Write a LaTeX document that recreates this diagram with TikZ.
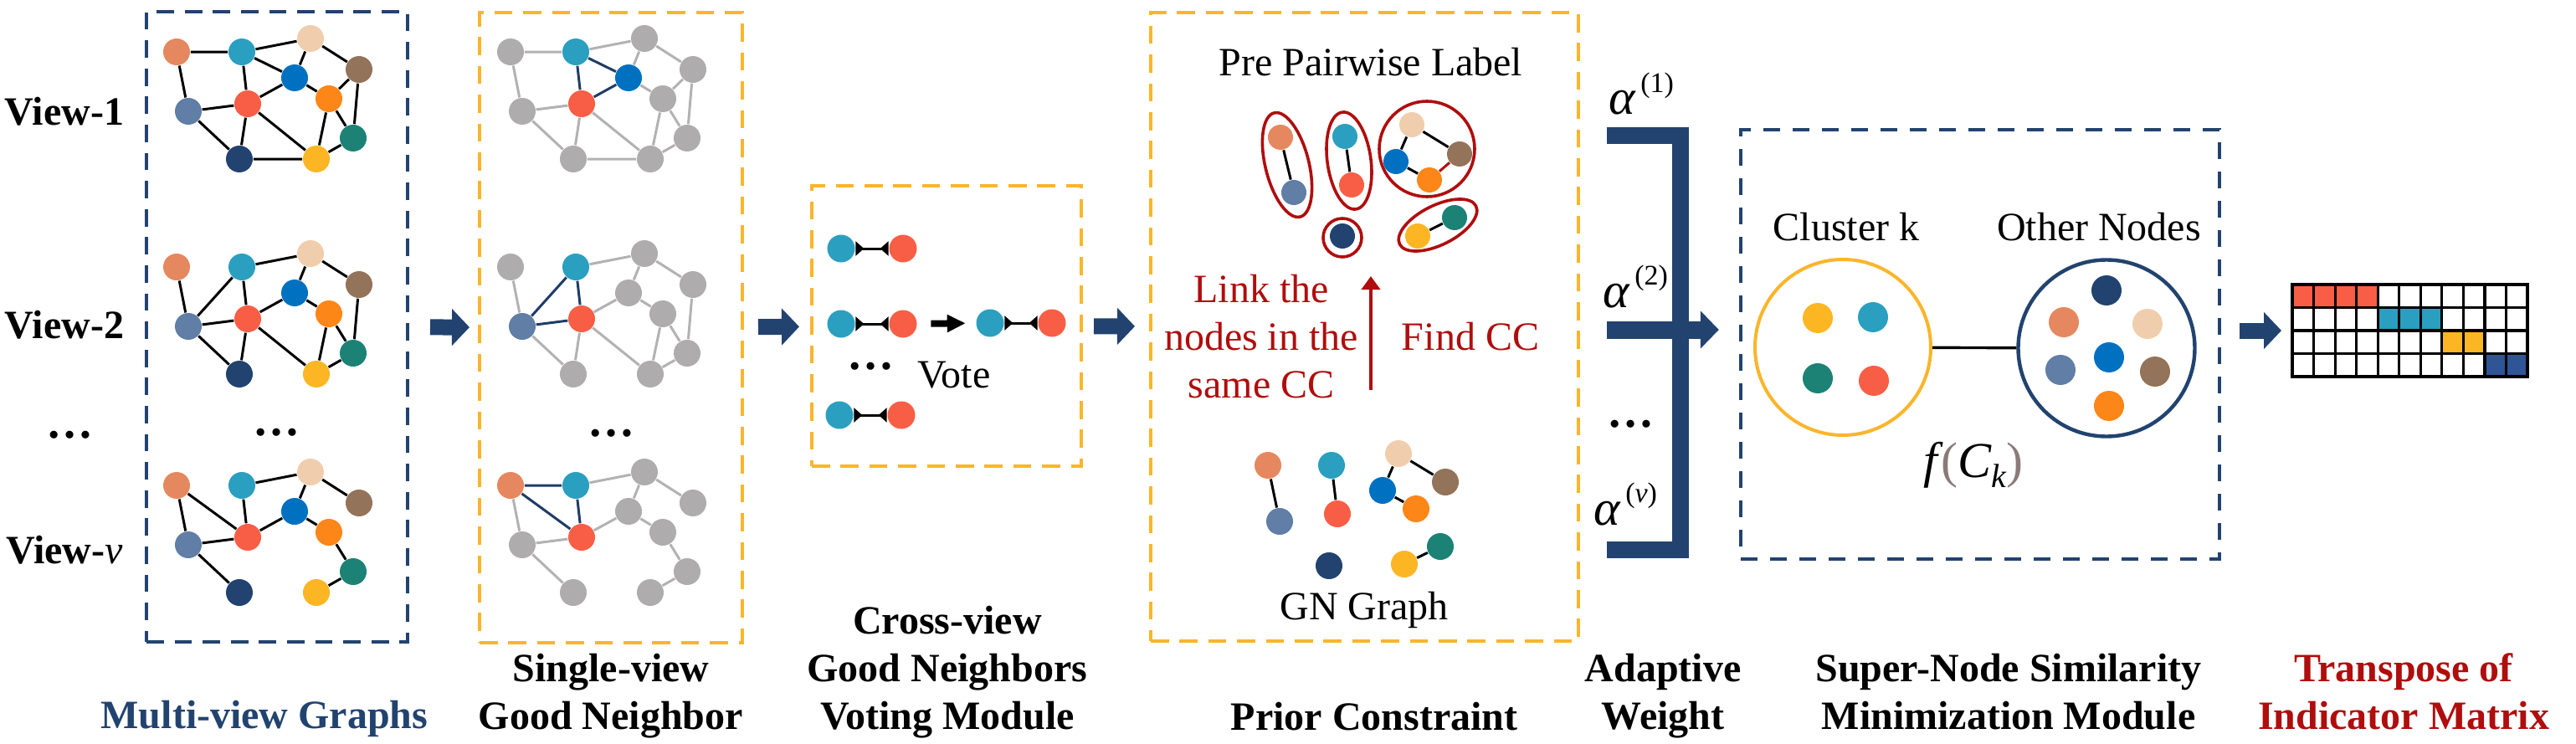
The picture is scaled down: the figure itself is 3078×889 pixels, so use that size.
\documentclass[tikz,border=0pt]{standalone}
\usepackage{fontspec}
\setmainfont{Liberation Serif}
\usetikzlibrary{positioning}
\usetikzlibrary{arrows.meta}
\usetikzlibrary{shapes.geometric}

\definecolor{csalmon}{HTML}{E6885F}
\definecolor{cteal}{HTML}{2B9FBF}
\definecolor{cbeige}{HTML}{F0CEAD}
\definecolor{cbrown}{HTML}{937359}
\definecolor{cblue}{HTML}{0071C1}
\definecolor{corange}{HTML}{FC8618}
\definecolor{cred}{HTML}{F85E46}
\definecolor{cslate}{HTML}{607EA6}
\definecolor{cgreen}{HTML}{1C8276}
\definecolor{cnavy}{HTML}{22436F}
\definecolor{cyellow}{HTML}{FDB623}
\definecolor{cgreynode}{HTML}{AEACAC}
\definecolor{cgreyline}{HTML}{B3B1B1}
\definecolor{cgood}{HTML}{1F3C68}
\definecolor{camber}{HTML}{FBB52B}
\definecolor{cdarkred}{HTML}{B00D0D}
\definecolor{cmatblue}{HTML}{2F5597}
\definecolor{cparen}{HTML}{8B7B78}

\begin{document}
\begin{tikzpicture}[x=0.25pt, y=-0.25pt,
gn/.style={circle, inner sep=0pt, minimum size=8pt, fill=#1},
pn/.style={circle, inner sep=0pt, minimum size=7.5pt, fill=#1},
vn/.style={circle, inner sep=0pt, minimum size=8.25pt, fill=#1},
dotnode/.style={circle, inner sep=0pt, minimum size=9pt, fill=#1},
links/.style={line width=0.75pt},
greylinks/.style={line width=0.75pt, cgreyline},
goodlinks/.style={line width=0.75pt, cgood},
pairlink/.style={line width=0.75pt, arrows={Triangle[reversed,length=2.5pt,width=4.25pt]-Triangle[reversed,length=2.5pt,width=4.25pt]}},
navybox/.style={draw=cnavy, line width=1pt, dash pattern=on 5.2pt off 3.2pt, inner sep=0pt},
snbox/.style={draw=cnavy, line width=1.1pt, dash pattern=on 5pt off 3.75pt, inner sep=0pt},
amberbox/.style={draw=camber, line width=1pt, dash pattern=on 5.4pt off 3.2pt, inner sep=0pt},
ccring/.style={draw=cdarkred, line width=0.9pt, inner sep=0pt},
blockarrow/.style={draw=cnavy, line width=4.75pt, -{Triangle[length=5.25pt, width=10.75pt]}},
votearrow/.style={line width=2pt, -{Triangle[length=5.5pt, width=5pt]}},
redarrow/.style={draw=cdarkred, line width=1pt, -{Triangle[length=4pt, width=5.5pt]}},
bracket/.style={draw=cnavy, line width=5pt},
boldlbl/.style={font=\bfseries\fontsize{12pt}{14.25pt}\selectfont, align=center, inner sep=0pt, anchor=base},
lbl/.style={font=\fontsize{12pt}{14.25pt}\selectfont, align=center, inner sep=0pt, anchor=base},
dots/.style={font=\bfseries\fontsize{14pt}{14pt}\selectfont, inner sep=0pt},
alpha/.style={font=\fontsize{15pt}{15pt}\selectfont\itshape, inner sep=0pt, anchor=base west}
]
\useasboundingbox (0,0) rectangle (3078,889);

%create boxes
\node[navybox, minimum width=78pt, minimum height=188.25pt] (mv) at (331,390.5) {};
\node[amberbox, minimum width=78.5pt, minimum height=188.25pt] (sv) at (730,391.5) {};
\node[amberbox, minimum width=80.5pt, minimum height=83.75pt] (cv) at (1131,389.5) {};
\node[amberbox, minimum width=127.75pt, minimum height=187.75pt] (pc) at (1630.5,390.5) {};
\node[snbox, minimum width=143pt, minimum height=128.25pt] (sn) at (2366,411.5) {};

%view labels
\node[boldlbl] (lv1) at (77,150) {View-1};
\node[boldlbl] (lv2) at (77,404) {View-2};
\node[dots] (lvd) at (83,520) {…};
\node[boldlbl] (lvv) at (77,673) {View-{\mdseries\itshape v}};

%multi-view graphs, view 1
\node[gn=csalmon] (v1a) at (211,62) {};
\node[gn=cteal] (v1b) at (289,62) {};
\node[gn=cbeige] (v1c) at (371,46) {};
\node[gn=cbrown] (v1d) at (429,83) {};
\node[gn=cblue] (v1e) at (352,93) {};
\node[gn=corange] (v1f) at (393,118) {};
\node[gn=cred] (v1g) at (296,124) {};
\node[gn=cslate] (v1h) at (225,133) {};
\node[gn=cgreen] (v1i) at (422,165) {};
\node[gn=cnavy] (v1j) at (286,190) {};
\node[gn=cyellow] (v1k) at (378,190) {};
\draw[links] (v1a) -- (v1b) (v1a) -- (v1h) (v1b) -- (v1c) (v1b) -- (v1e) (v1b) -- (v1g)
  (v1c) -- (v1e) (v1c) -- (v1d) (v1d) -- (v1f) (v1d) -- (v1i) (v1e) -- (v1g) (v1e) -- (v1f)
  (v1f) -- (v1k) (v1f) -- (v1i) (v1g) -- (v1h) (v1g) -- (v1j) (v1g) -- (v1k) (v1h) -- (v1j)
  (v1j) -- (v1k) (v1k) -- (v1i);

%view 2
\node[gn=csalmon] (v2a) at (211,319) {};
\node[gn=cteal] (v2b) at (289,319) {};
\node[gn=cbeige] (v2c) at (371,303) {};
\node[gn=cbrown] (v2d) at (429,340) {};
\node[gn=cblue] (v2e) at (352,350) {};
\node[gn=corange] (v2f) at (393,375) {};
\node[gn=cred] (v2g) at (296,381) {};
\node[gn=cslate] (v2h) at (225,390) {};
\node[gn=cgreen] (v2i) at (422,422) {};
\node[gn=cnavy] (v2j) at (286,447) {};
\node[gn=cyellow] (v2k) at (378,447) {};
\draw[links] (v2a) -- (v2h) (v2b) -- (v2h) (v2b) -- (v2c) (v2b) -- (v2g) (v2c) -- (v2e)
  (v2c) -- (v2d) (v2d) -- (v2i) (v2e) -- (v2g) (v2e) -- (v2f) (v2f) -- (v2k) (v2f) -- (v2i)
  (v2g) -- (v2h) (v2g) -- (v2j) (v2g) -- (v2k) (v2h) -- (v2j) (v2k) -- (v2i);

\node[dots] (mvd) at (330,517) {…};

%view v
\node[gn=csalmon] (vva) at (211,580) {};
\node[gn=cteal] (vvb) at (289,580) {};
\node[gn=cbeige] (vvc) at (371,564) {};
\node[gn=cbrown] (vvd) at (429,601) {};
\node[gn=cblue] (vve) at (352,611) {};
\node[gn=corange] (vvf) at (393,636) {};
\node[gn=cred] (vvg) at (296,642) {};
\node[gn=cslate] (vvh) at (225,651) {};
\node[gn=cgreen] (vvi) at (422,683) {};
\node[gn=cnavy] (vvj) at (286,708) {};
\node[gn=cyellow] (vvk) at (378,708) {};
\draw[links] (vva) -- (vvh) (vva) -- (vvg) (vvb) -- (vvc) (vvb) -- (vvg) (vvc) -- (vve)
  (vvc) -- (vvd) (vve) -- (vvg) (vve) -- (vvf) (vvf) -- (vvi) (vvg) -- (vvh) (vvh) -- (vvj)
  (vvk) -- (vvi);

%single-view good neighbor, view 1
\node[gn=cgreynode] (s1a) at (610,62) {};
\node[gn=cteal] (s1b) at (688,62) {};
\node[gn=cgreynode] (s1c) at (770,46) {};
\node[gn=cgreynode] (s1d) at (828,83) {};
\node[gn=cblue] (s1e) at (751,93) {};
\node[gn=cgreynode] (s1f) at (792,118) {};
\node[gn=cred] (s1g) at (695,124) {};
\node[gn=cgreynode] (s1h) at (624,133) {};
\node[gn=cgreynode] (s1i) at (821,165) {};
\node[gn=cgreynode] (s1j) at (685,190) {};
\node[gn=cgreynode] (s1k) at (777,190) {};
\draw[greylinks] (s1a) -- (s1b) (s1a) -- (s1h) (s1b) -- (s1c) (s1c) -- (s1e) (s1c) -- (s1d)
  (s1d) -- (s1f) (s1d) -- (s1i) (s1e) -- (s1f) (s1f) -- (s1k) (s1f) -- (s1i) (s1g) -- (s1h)
  (s1g) -- (s1j) (s1g) -- (s1k) (s1h) -- (s1j) (s1j) -- (s1k) (s1k) -- (s1i);
\draw[goodlinks] (s1b) -- (s1e) (s1b) -- (s1g) (s1e) -- (s1g);

%view 2
\node[gn=cgreynode] (s2a) at (610,319) {};
\node[gn=cteal] (s2b) at (688,319) {};
\node[gn=cgreynode] (s2c) at (770,303) {};
\node[gn=cgreynode] (s2d) at (828,340) {};
\node[gn=cgreynode] (s2e) at (751,350) {};
\node[gn=cgreynode] (s2f) at (792,375) {};
\node[gn=cred] (s2g) at (695,381) {};
\node[gn=cslate] (s2h) at (624,390) {};
\node[gn=cgreynode] (s2i) at (821,422) {};
\node[gn=cgreynode] (s2j) at (685,447) {};
\node[gn=cgreynode] (s2k) at (777,447) {};
\draw[greylinks] (s2a) -- (s2h) (s2b) -- (s2c) (s2c) -- (s2e) (s2c) -- (s2d) (s2d) -- (s2i)
  (s2e) -- (s2g) (s2e) -- (s2f) (s2f) -- (s2k) (s2f) -- (s2i) (s2g) -- (s2j) (s2g) -- (s2k)
  (s2h) -- (s2j) (s2k) -- (s2i);
\draw[goodlinks] (s2b) -- (s2h) (s2b) -- (s2g) (s2g) -- (s2h);

\node[dots] (svd) at (730,518) {…};

%view v
\node[gn=csalmon] (sva) at (610,580) {};
\node[gn=cteal] (svb) at (688,580) {};
\node[gn=cgreynode] (svc) at (770,564) {};
\node[gn=cgreynode] (svd2) at (828,601) {};
\node[gn=cgreynode] (sve) at (751,611) {};
\node[gn=cgreynode] (svf) at (792,636) {};
\node[gn=cred] (svg) at (695,642) {};
\node[gn=cgreynode] (svh) at (624,651) {};
\node[gn=cgreynode] (svi) at (821,683) {};
\node[gn=cgreynode] (svj) at (685,708) {};
\node[gn=cgreynode] (svk) at (777,708) {};
\draw[greylinks] (sva) -- (svh) (svb) -- (svc) (svc) -- (sve) (svc) -- (svd2) (sve) -- (svg)
  (sve) -- (svf) (svf) -- (svi) (svg) -- (svh) (svh) -- (svj) (svk) -- (svi);
\draw[goodlinks] (sva) -- (svb) (sva) -- (svg) (svb) -- (svg);

%cross-view voting
\node[vn=cteal] (vt1) at (1005,297) {};
\node[vn=cred] (vr1) at (1079,297) {};
\node[vn=cteal] (vt2) at (1005,387) {};
\node[vn=cred] (vr2) at (1079,387) {};
\node[vn=cteal] (vt3) at (1003,496) {};
\node[vn=cred] (vr3) at (1077,496) {};
\node[vn=cteal] (vt0) at (1183,386) {};
\node[vn=cred] (vr0) at (1257,386) {};
\draw[pairlink] (vt1) -- (vr1);
\draw[pairlink] (vt2) -- (vr2);
\draw[pairlink] (vt3) -- (vr3);
\draw[pairlink] (vt0) -- (vr0);
\draw[votearrow, shorten <=4pt, shorten >=3pt] (vr2) -- (vt0);
\node[dots] (cvd) at (1040,438) {…};
\node[lbl] (lvote) at (1140,463) {Vote};

%prior constraint, pre pairwise label
\node[lbl] (lpp) at (1638,91) {Pre Pairwise Label};
\node[ccring, ellipse, minimum width=32pt, minimum height=13pt, rotate=-76] (cc1) at (1538,197) {};
\node[ccring, ellipse, minimum width=29.25pt, minimum height=13pt, rotate=-82] (cc2) at (1612,192) {};
\node[ccring, circle, minimum size=28.5pt] (cc3) at (1705,178) {};
\node[ccring, circle, minimum size=11.5pt] (cc4) at (1604,284) {};
\node[ccring, ellipse, minimum width=25.5pt, minimum height=11.75pt, rotate=26.6] (cc5) at (1718,269) {};
\node[pn=csalmon] (pa) at (1530,164) {};
\node[pn=cslate] (ph) at (1546,230) {};
\node[pn=cteal] (pb) at (1607,163) {};
\node[pn=cred] (pg) at (1615,221) {};
\node[pn=cbeige] (pcc) at (1687,149) {};
\node[pn=cbrown] (pd) at (1744,184) {};
\node[pn=cblue] (pe) at (1668,193) {};
\node[pn=corange] (pf) at (1708,215) {};
\node[pn=cnavy] (pj) at (1604,282) {};
\node[pn=cyellow] (pk) at (1694,282) {};
\node[pn=cgreen] (pi) at (1738,260) {};
\draw[links] (pa) -- (ph) (pb) -- (pg) (pcc) -- (pe) (pcc) -- (pd) (pe) -- (pf) (pk) -- (pi);
\draw[links, cdarkred] (pf) -- (pd);

\node[lbl, text=cdarkred] (llink) at (1507,475) {Link the\\nodes in the\\same CC};
\node[lbl, text=cdarkred] (lfind) at (1757,418) {Find CC};
\coordinate (fcc1) at (1638,466);
\coordinate (fcc2) at (1638,330);
\draw[redarrow] (fcc1) -- (fcc2);

%GN graph
\node[gn=csalmon] (ga) at (1515,556) {};
\node[gn=cteal] (gb) at (1591,556) {};
\node[gn=cbeige] (gc) at (1671,542) {};
\node[gn=cbrown] (gd) at (1727,576) {};
\node[gn=cblue] (ge) at (1652,586) {};
\node[gn=corange] (gf) at (1692,608) {};
\node[gn=cslate] (gh) at (1529,623) {};
\node[gn=cred] (gg) at (1598,614) {};
\node[gn=cnavy] (gj) at (1588,676) {};
\node[gn=cyellow] (gk) at (1678,674) {};
\node[gn=cgreen] (gi) at (1721,653) {};
\draw[links] (ga) -- (gh) (gb) -- (gg) (gc) -- (ge) (gc) -- (gd) (ge) -- (gf) (gk) -- (gi);
\node[lbl] (lgn) at (1630,740) {GN Graph};

%adaptive weight
\node[alpha] (al1) at (1922,137) {α\hspace{1.5pt}\raisebox{6.6pt}{\upshape\fontsize{8.5pt}{8.5pt}\selectfont (1)}};
\node[alpha] (al2) at (1915,367) {α\hspace{1.5pt}\raisebox{6.6pt}{\upshape\fontsize{8.5pt}{8.5pt}\selectfont (2)}};
\node[dots] (ald) at (1948,507) {…};
\node[alpha] (alv) at (1904,627) {α\hspace{1.5pt}\raisebox{6.6pt}{\upshape\fontsize{8.5pt}{8.5pt}\selectfont (\textit{v})}};
\coordinate (w1) at (1920,162);
\coordinate (w2) at (1920,657);
\coordinate (wm) at (1920,394);
\draw[bracket] (w1) -- ++(88,0) |- (w2);
\draw[blockarrow, line width=5.25pt, -{Triangle[length=5.5pt, width=11pt]}, shorten >=6pt] (wm) -- (wm -| sn.west);

%super-node similarity
\node[lbl] (lck) at (2206,287) {Cluster k};
\node[lbl] (lon) at (2508,287) {Other Nodes};
\node[draw=camber, line width=1pt, circle, inner sep=0pt, minimum size=52.5pt] (ck) at (2202,415) {};
\node[draw=cnavy, line width=1.1pt, circle, inner sep=0pt, minimum size=52.75pt] (on) at (2517,416) {};
\draw[line width=0.85pt] (ck) -- (on);
\node[dotnode=cyellow] (ka) at (2172,380) {};
\node[dotnode=cteal] (kb) at (2238,379) {};
\node[dotnode=cgreen] (kc) at (2172,452) {};
\node[dotnode=cred] (kd) at (2239,455) {};
\node[dotnode=cnavy] (oa) at (2517,347) {};
\node[dotnode=csalmon] (ob) at (2466,385) {};
\node[dotnode=cbeige] (oc) at (2566,387) {};
\node[dotnode=cslate] (od) at (2462,442) {};
\node[dotnode=cblue] (oe) at (2520,427) {};
\node[dotnode=cbrown] (of) at (2575,444) {};
\node[dotnode=corange] (og) at (2520,485) {};
\node[lbl] (lf) at (2358,570) {{\fontsize{15pt}{15pt}\selectfont\itshape f\hspace{1pt}\textcolor{cparen}{\upshape(}C\raisebox{-3pt}{\fontsize{10pt}{10pt}\selectfont k}\textcolor{cparen}{\upshape)}}};

%indicator matrix
\fill[cred] (2739,340) rectangle (2841.2,367.5);
\fill[cteal] (2841.2,367.5) rectangle (2917.8,395);
\fill[cyellow] (2917.8,395) rectangle (2968.9,422.5);
\fill[cmatblue] (2968.9,422.5) rectangle (3020,450);
\draw[line width=0.8pt] (2764.5,340) -- (2764.5,450) (2790.1,340) -- (2790.1,450)
  (2815.6,340) -- (2815.6,450) (2841.2,340) -- (2841.2,450) (2866.7,340) -- (2866.7,450)
  (2892.3,340) -- (2892.3,450) (2917.8,340) -- (2917.8,450) (2943.4,340) -- (2943.4,450)
  (2968.9,340) -- (2968.9,450) (2994.5,340) -- (2994.5,450)
  (2739,367.5) -- (3020,367.5) (2739,395) -- (3020,395) (2739,422.5) -- (3020,422.5);
\node[draw, line width=1pt, inner sep=0pt, minimum width=70.25pt, minimum height=27.5pt] (mat) at (2879.5,395) {};

%draw arrows
\draw[blockarrow, shorten <=6.25pt, shorten >=2.5pt] (mv) -- (sv);
\draw[blockarrow, shorten <=4.25pt, shorten >=3.25pt] (sv) -- (cv);
\draw[blockarrow, shorten <=3.25pt, shorten >=4.25pt] (cv) -- (pc);
\draw[blockarrow, shorten <=5.5pt, shorten >=2.75pt] (sn.east |- mat.west) -- (mat.west);

%bottom labels
\node[boldlbl, text=cnavy] (lmv) at (316,870) {Multi-view Graphs};
\node[boldlbl] (lsv) at (730,871) {Single-view\\Good Neighbor};
\node[boldlbl] (lcv) at (1132,871) {Cross-view\\Good Neighbors\\Voting Module};
\node[boldlbl] (lpc) at (1642,872) {Prior Constraint};
\node[boldlbl] (law) at (1987,871) {Adaptive\\Weight};
\node[boldlbl] (lsn) at (2400,871) {Super-Node Similarity\\Minimization Module};
\node[boldlbl, text=cdarkred] (lim) at (2872,871) {Transpose of\\Indicator Matrix};

\end{tikzpicture}
\end{document}
